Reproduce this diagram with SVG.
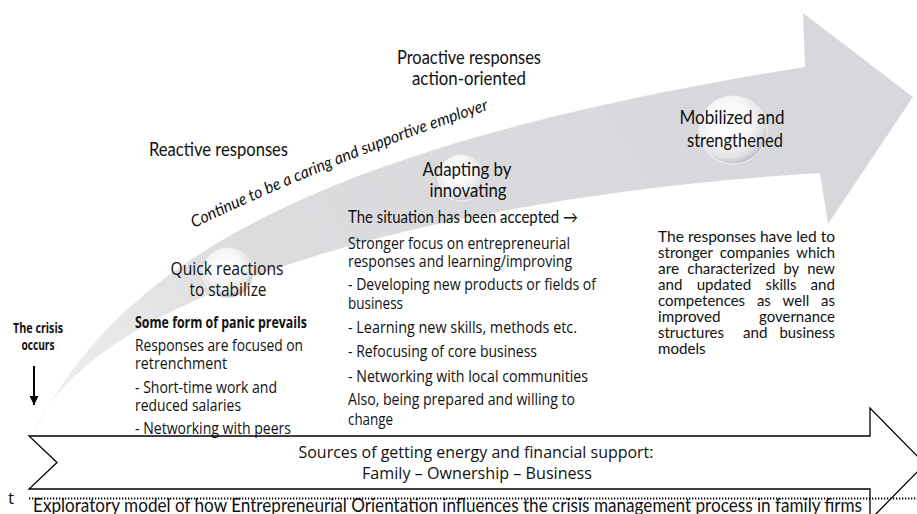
<svg xmlns="http://www.w3.org/2000/svg" width="917" height="514" viewBox="0 0 917 514">
<defs>
  <linearGradient id="bandGrad" gradientUnits="userSpaceOnUse" x1="60" y1="430" x2="700" y2="60">
    <stop offset="0" stop-color="#efeff0"/>
    <stop offset="0.35" stop-color="#dcdcdf"/>
    <stop offset="1" stop-color="#d7d8db"/>
  </linearGradient>
  <radialGradient id="bubble" cx="0.42" cy="0.38" r="0.64">
    <stop offset="0" stop-color="#ffffff"/>
    <stop offset="0.55" stop-color="#f6f6f7"/>
    <stop offset="0.82" stop-color="#e2e2e5"/>
    <stop offset="1" stop-color="#bdbdc2"/>
  </radialGradient>
  <marker id="arrowDown" viewBox="0 0 10 10" refX="10" refY="5" markerWidth="10" markerHeight="9" markerUnits="userSpaceOnUse" orient="auto">
    <path d="M0,0 L10,5 L0,10 Z" fill="#000"/>
  </marker>
  <path id="continuePath" d="M194,228 Q340,158 497,107"/>
</defs>
<style>
  .cal { font-family: Lato, "Liberation Sans", sans-serif; fill: #111; }
  .seg { font-family: "Open Sans", "Noto Sans", "Liberation Sans", sans-serif; fill: #111; }
  .big { font-size: 18.5px; }
  .mid { font-size: 16px; }
  .cal.mid { font-size: 16.5px; }
  .mid-c { text-anchor: middle; }
  .bubble { fill: url(#bubble); stroke: #f2f2f3; stroke-width: 1; }
  .outline { fill: #fff; stroke: #000; stroke-width: 1.3; }
</style>

<rect width="917" height="514" fill="#ffffff"/>

<!-- bottom chevron arrow: sources of energy -->
<g id="sources-arrow">
  <path class="outline" d="M29,436 L870,436 L870,408 L925,464 L870,520 L870,489 L29,489 L57,462.5 Z"/>
  <text class="seg mid-c" font-size="17" x="476" y="458" textLength="355" lengthAdjust="spacingAndGlyphs">Sources of  getting energy and financial support:</text>
  <text class="seg mid-c" font-size="17" x="477" y="479" textLength="230" lengthAdjust="spacingAndGlyphs">Family  – Ownership – Business</text>
</g>

<!-- main curved arrow -->
<g id="main-arrow">
  <path d="M33,435 C110,280 280,150 805,67 L803,13 L913,97 L828,224 L820,173 C450,195 90,290 33,435 Z" fill="url(#bandGrad)"/>
  <text class="cal" font-size="16.5" font-style="italic"><textPath href="#continuePath" textLength="318" lengthAdjust="spacingAndGlyphs">Continue to be a caring and supportive employer</textPath></text>
</g>

<g id="label-reactive">
  <text class="cal big" x="149" y="156" textLength="139" lengthAdjust="spacingAndGlyphs">Reactive responses</text>
</g>
<g id="label-proactive">
  <text class="cal big mid-c" x="469" y="64" textLength="144" lengthAdjust="spacingAndGlyphs">Proactive responses</text>
  <text class="cal big mid-c" x="469" y="85" textLength="114" lengthAdjust="spacingAndGlyphs">action-oriented</text>
</g>

<g id="node-quick">
  <circle class="bubble" cx="228" cy="273" r="25"/>
  <text class="seg big mid-c" x="227" y="275" textLength="113" lengthAdjust="spacingAndGlyphs">Quick reactions</text>
  <text class="seg big mid-c" x="228" y="296" textLength="77" lengthAdjust="spacingAndGlyphs">to stabilize</text>
</g>

<g id="node-adapting">
  <circle class="bubble" cx="461" cy="178" r="23"/>
  <text class="cal big mid-c" x="467" y="176" textLength="89" lengthAdjust="spacingAndGlyphs">Adapting by</text>
  <text class="cal big mid-c" x="468" y="197" textLength="77" lengthAdjust="spacingAndGlyphs">innovating</text>
</g>

<g id="node-mobilized">
  <circle class="bubble" cx="733" cy="130" r="34"/>
  <text class="cal big mid-c" x="732" y="124" textLength="105" lengthAdjust="spacingAndGlyphs">Mobilized and</text>
  <text class="cal big mid-c" x="735" y="147" textLength="96" lengthAdjust="spacingAndGlyphs">strengthened</text>
</g>

<g id="crisis">
  <text class="seg" font-weight="bold" font-size="14" text-anchor="middle" x="38" y="333" textLength="50" lengthAdjust="spacingAndGlyphs">The crisis</text>
  <text class="seg" font-weight="bold" font-size="14" text-anchor="middle" x="38" y="350" textLength="33" lengthAdjust="spacingAndGlyphs">occurs</text>
</g>

<g id="text-reactive" class="seg mid">
  <text font-weight="bold" font-size="15.5" x="135" y="328" textLength="172" lengthAdjust="spacingAndGlyphs">Some form of panic prevails</text>
  <text x="135" y="351" textLength="168" lengthAdjust="spacingAndGlyphs">Responses are focused on</text>
  <text x="135" y="369" textLength="92" lengthAdjust="spacingAndGlyphs">retrenchment</text>
  <text x="135" y="393" textLength="142" lengthAdjust="spacingAndGlyphs">- Short-time work and</text>
  <text x="135" y="411" textLength="106" lengthAdjust="spacingAndGlyphs">reduced salaries</text>
  <text x="135" y="434" textLength="156" lengthAdjust="spacingAndGlyphs">- Networking with peers</text>
</g>

<g id="text-adapting">
  <text class="cal mid" x="348" y="223" textLength="230" lengthAdjust="spacingAndGlyphs">The situation has been accepted →</text>
  <g class="seg mid">
    <text x="348" y="249" textLength="222" lengthAdjust="spacingAndGlyphs">Stronger focus on entrepreneurial</text>
    <text x="348" y="267" textLength="224" lengthAdjust="spacingAndGlyphs">responses and learning/improving</text>
    <text x="348" y="290" textLength="248" lengthAdjust="spacingAndGlyphs">- Developing new products or fields of</text>
    <text x="348" y="309" textLength="55" lengthAdjust="spacingAndGlyphs">business</text>
    <text x="348" y="333" textLength="229" lengthAdjust="spacingAndGlyphs">- Learning new skills, methods etc.</text>
    <text x="348" y="357" textLength="189" lengthAdjust="spacingAndGlyphs">- Refocusing of core business</text>
    <text x="348" y="382" textLength="240" lengthAdjust="spacingAndGlyphs">- Networking with local communities</text>
    <text x="348" y="405" textLength="227" lengthAdjust="spacingAndGlyphs">Also, being prepared and willing to</text>
    <text x="348" y="425" textLength="45" lengthAdjust="spacingAndGlyphs">change</text>
  </g>
</g>

<g id="text-mobilized" class="cal" font-size="16">
  <text x="658" y="242" textLength="177" lengthAdjust="spacingAndGlyphs">The responses have led to</text>
  <text x="658" y="258" textLength="55" lengthAdjust="spacingAndGlyphs">stronger</text>
  <text x="719.7" y="258" textLength="70" lengthAdjust="spacingAndGlyphs">companies</text>
  <text x="796.3" y="258" textLength="38.7" lengthAdjust="spacingAndGlyphs">which</text>
  <text x="658" y="274" textLength="21.2" lengthAdjust="spacingAndGlyphs">are</text>
  <text x="687.3" y="274" textLength="88.1" lengthAdjust="spacingAndGlyphs">characterized</text>
  <text x="783.5" y="274" textLength="15.6" lengthAdjust="spacingAndGlyphs">by</text>
  <text x="807.2" y="274" textLength="27.8" lengthAdjust="spacingAndGlyphs">new</text>
  <text x="658" y="290" textLength="24.5" lengthAdjust="spacingAndGlyphs">and</text>
  <text x="696.7" y="290" textLength="54.6" lengthAdjust="spacingAndGlyphs">updated</text>
  <text x="765.5" y="290" textLength="30.8" lengthAdjust="spacingAndGlyphs">skills</text>
  <text x="810.5" y="290" textLength="24.5" lengthAdjust="spacingAndGlyphs">and</text>
  <text x="658" y="306" textLength="87.1" lengthAdjust="spacingAndGlyphs">competences</text>
  <text x="756.9" y="306" textLength="13.9" lengthAdjust="spacingAndGlyphs">as</text>
  <text x="782.6" y="306" textLength="26.7" lengthAdjust="spacingAndGlyphs">well</text>
  <text x="821.1" y="306" textLength="13.9" lengthAdjust="spacingAndGlyphs">as</text>
  <text x="658" y="322" textLength="62.5" lengthAdjust="spacingAndGlyphs">improved</text>
  <text x="759" y="322" textLength="76" lengthAdjust="spacingAndGlyphs">governance</text>
  <text x="658" y="338" textLength="65.9" lengthAdjust="spacingAndGlyphs">structures</text>
  <text x="743" y="338" textLength="24.5" lengthAdjust="spacingAndGlyphs">and</text>
  <text x="779.4" y="338" textLength="55.6" lengthAdjust="spacingAndGlyphs">business</text>
  <text x="658" y="354" textLength="47.5" lengthAdjust="spacingAndGlyphs">models</text>
</g>

<g id="connectors">
  <line x1="34" y1="366" x2="34" y2="405" stroke="#000" stroke-width="2" marker-end="url(#arrowDown)"/>
  <line x1="29" y1="498.5" x2="917" y2="498.5" stroke="#000" stroke-width="1.8" stroke-dasharray="1.3 1.7"/>
</g>

<g id="axis-labels">
  <text class="seg" font-size="17" x="8" y="504">t</text>
  <text class="cal" font-size="19" x="33" y="512" textLength="829" lengthAdjust="spacingAndGlyphs">Exploratory model of how Entrepreneurial Orientation influences the crisis management process in family firms</text>
</g>
</svg>
